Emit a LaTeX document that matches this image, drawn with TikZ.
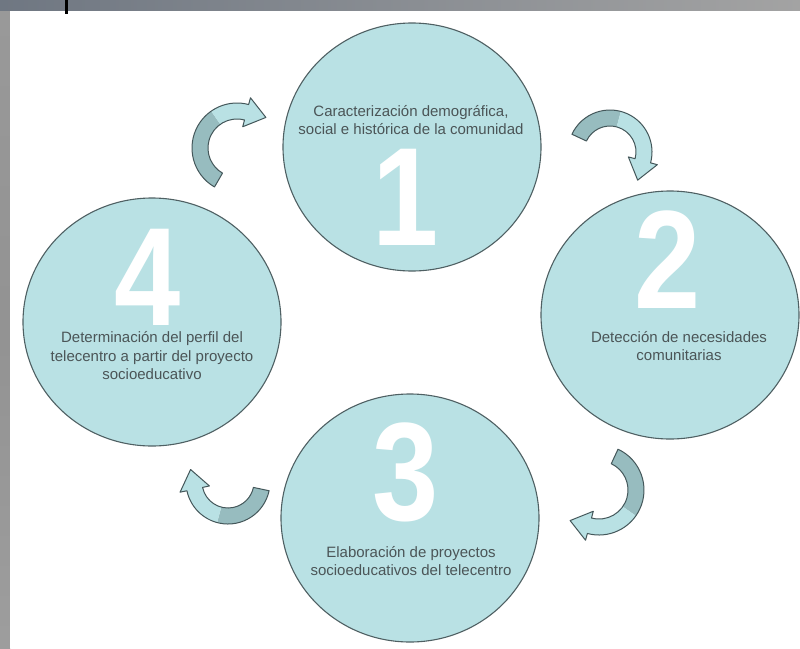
\documentclass[tikz,border=0pt]{standalone}
\usepackage{fontspec}
\usepackage{graphicx}
\setmainfont{Liberation Sans}
\usetikzlibrary{shapes.geometric,calc}
\definecolor{cfill}{HTML}{B9E1E4}
\definecolor{cline}{HTML}{4F6063}
\definecolor{adark}{HTML}{97BCBF}
\definecolor{aline}{HTML}{44575A}
\definecolor{ctext}{HTML}{4B5557}
\definecolor{bgA}{HTML}{6F7782}
\definecolor{bgB}{HTML}{A3A3A3}
\pgfdeclareverticalshading{leftbar}{100bp}{color(0bp)=(black!60!white!80!blue!10); color(20bp)=(gray!75); color(50bp)=(gray!85); color(75bp)=(gray!80); color(83bp)=(bgA!90!blue); color(92bp)=(gray!80); color(100bp)=(gray!80)}
\newcommand\bandarrow[7]{%
  \pgfmathsetmacro\bro{#2+#3}%
  \pgfmathsetmacro\bri{#2-#3}%
  \pgfmathsetmacro\brH{#2+#7}%
  \pgfmathsetmacro\brh{#2-#7}%
  \pgfmathsetmacro\bdir{#6-90}%
  \fill[arrdark] ($(#1)+(#4:\bro)$) arc[start angle=#4,end angle=#5,radius=\bro pt]
     -- ($(#1)+(#5:\bri)$) arc[start angle=#5,end angle=#4,radius=\bri pt] -- cycle;
  \fill[arrlight] ($(#1)+(#5:\bro)$) arc[start angle=#5,end angle=#6,radius=\bro pt]
     -- ($(#1)+(#6:\brH)$) -- ($(#1)+(#6:#2)+(\bdir:20)$) -- ($(#1)+(#6:\brh)$)
     -- ($(#1)+(#6:\bri)$) arc[start angle=#6,end angle=#5,radius=\bri pt] -- cycle;
  \draw[arrline] ($(#1)+(#4:\bro)$) arc[start angle=#4,end angle=#6,radius=\bro pt]
     -- ($(#1)+(#6:\brH)$) -- ($(#1)+(#6:#2)+(\bdir:20)$) -- ($(#1)+(#6:\brh)$)
     -- ($(#1)+(#6:\bri)$) arc[start angle=#6,end angle=#4,radius=\bri pt] -- cycle;
}
\begin{document}
\begin{tikzpicture}[x=1pt,y=1pt,
  stage/.style={ellipse, draw=cline, line width=1.1pt, fill=cfill,
    minimum width=258pt, minimum height=248pt, inner sep=0pt},
  digit/.style={text=white, font=\fontsize{140}{140}\selectfont\bfseries,
    inner sep=0pt, anchor=base, text height=100pt, text depth=0pt},
  caption/.style={text=ctext, font=\fontsize{15}{18.5}\selectfont,
    align=center, inner sep=0pt},
  arrdark/.style={fill=adark},
  arrlight/.style={fill=cfill},
  arrline/.style={draw=aline, line width=1pt, line join=round}]
\useasboundingbox (0,0) rectangle (800,-648);
% background
\shade[left color=bgA, right color=bgB] (0,0) rectangle (800,-11);
\shade[shading=leftbar] (0,-11) rectangle (10,-648);
\fill[white] (10,-11) rectangle (800,-648);
\fill[black] (64.5,0) rectangle (67.5,-14);
% stages
\node[stage] (s1) at (412,-147) {};
\node[stage] (s2) at (670,-315) {};
\node[stage] (s3) at (410,-518) {};
\node[stage] (s4) at (152,-322) {};
% arrow centres
\coordinate (aA) at (237,-148);
\coordinate (aB) at (610,-152);
\coordinate (aC) at (599,-490);
\coordinate (aD) at (228,-482);
\bandarrow{aA}{37}{8}{240}{125}{75}{15}
\bandarrow{aB}{34}{8}{155}{75}{-15}{15}
\bandarrow{aC}{37}{8}{65}{-35}{-105}{15}
\bandarrow{aD}{34}{8}{-12}{-105}{-168}{15}
% digits
\node[digit] (d1) at (406,-245) {\scalebox{0.85}[1]{1}};
\node[digit] (d2) at (668,-308) {\scalebox{0.85}[1]{2}};
\node[digit] (d3) at (406,-520) {\scalebox{0.85}[1]{3}};
\node[digit] (d4) at (148,-325) {\scalebox{0.85}[1]{4}};
% captions
\node[caption] (t1) at (411,-120) {Caracterización demográfica,\\social e histórica de la comunidad};
\node[caption] (t2) at (679,-346) {Detección de necesidades\\comunitarias};
\node[caption] (t3) at (411,-561) {Elaboración de proyectos\\socioeducativos del telecentro};
\node[caption] (t4) at (152,-356) {Determinación del perfil del\\telecentro a partir del proyecto\\socioeducativo};
\end{tikzpicture}
\end{document}
